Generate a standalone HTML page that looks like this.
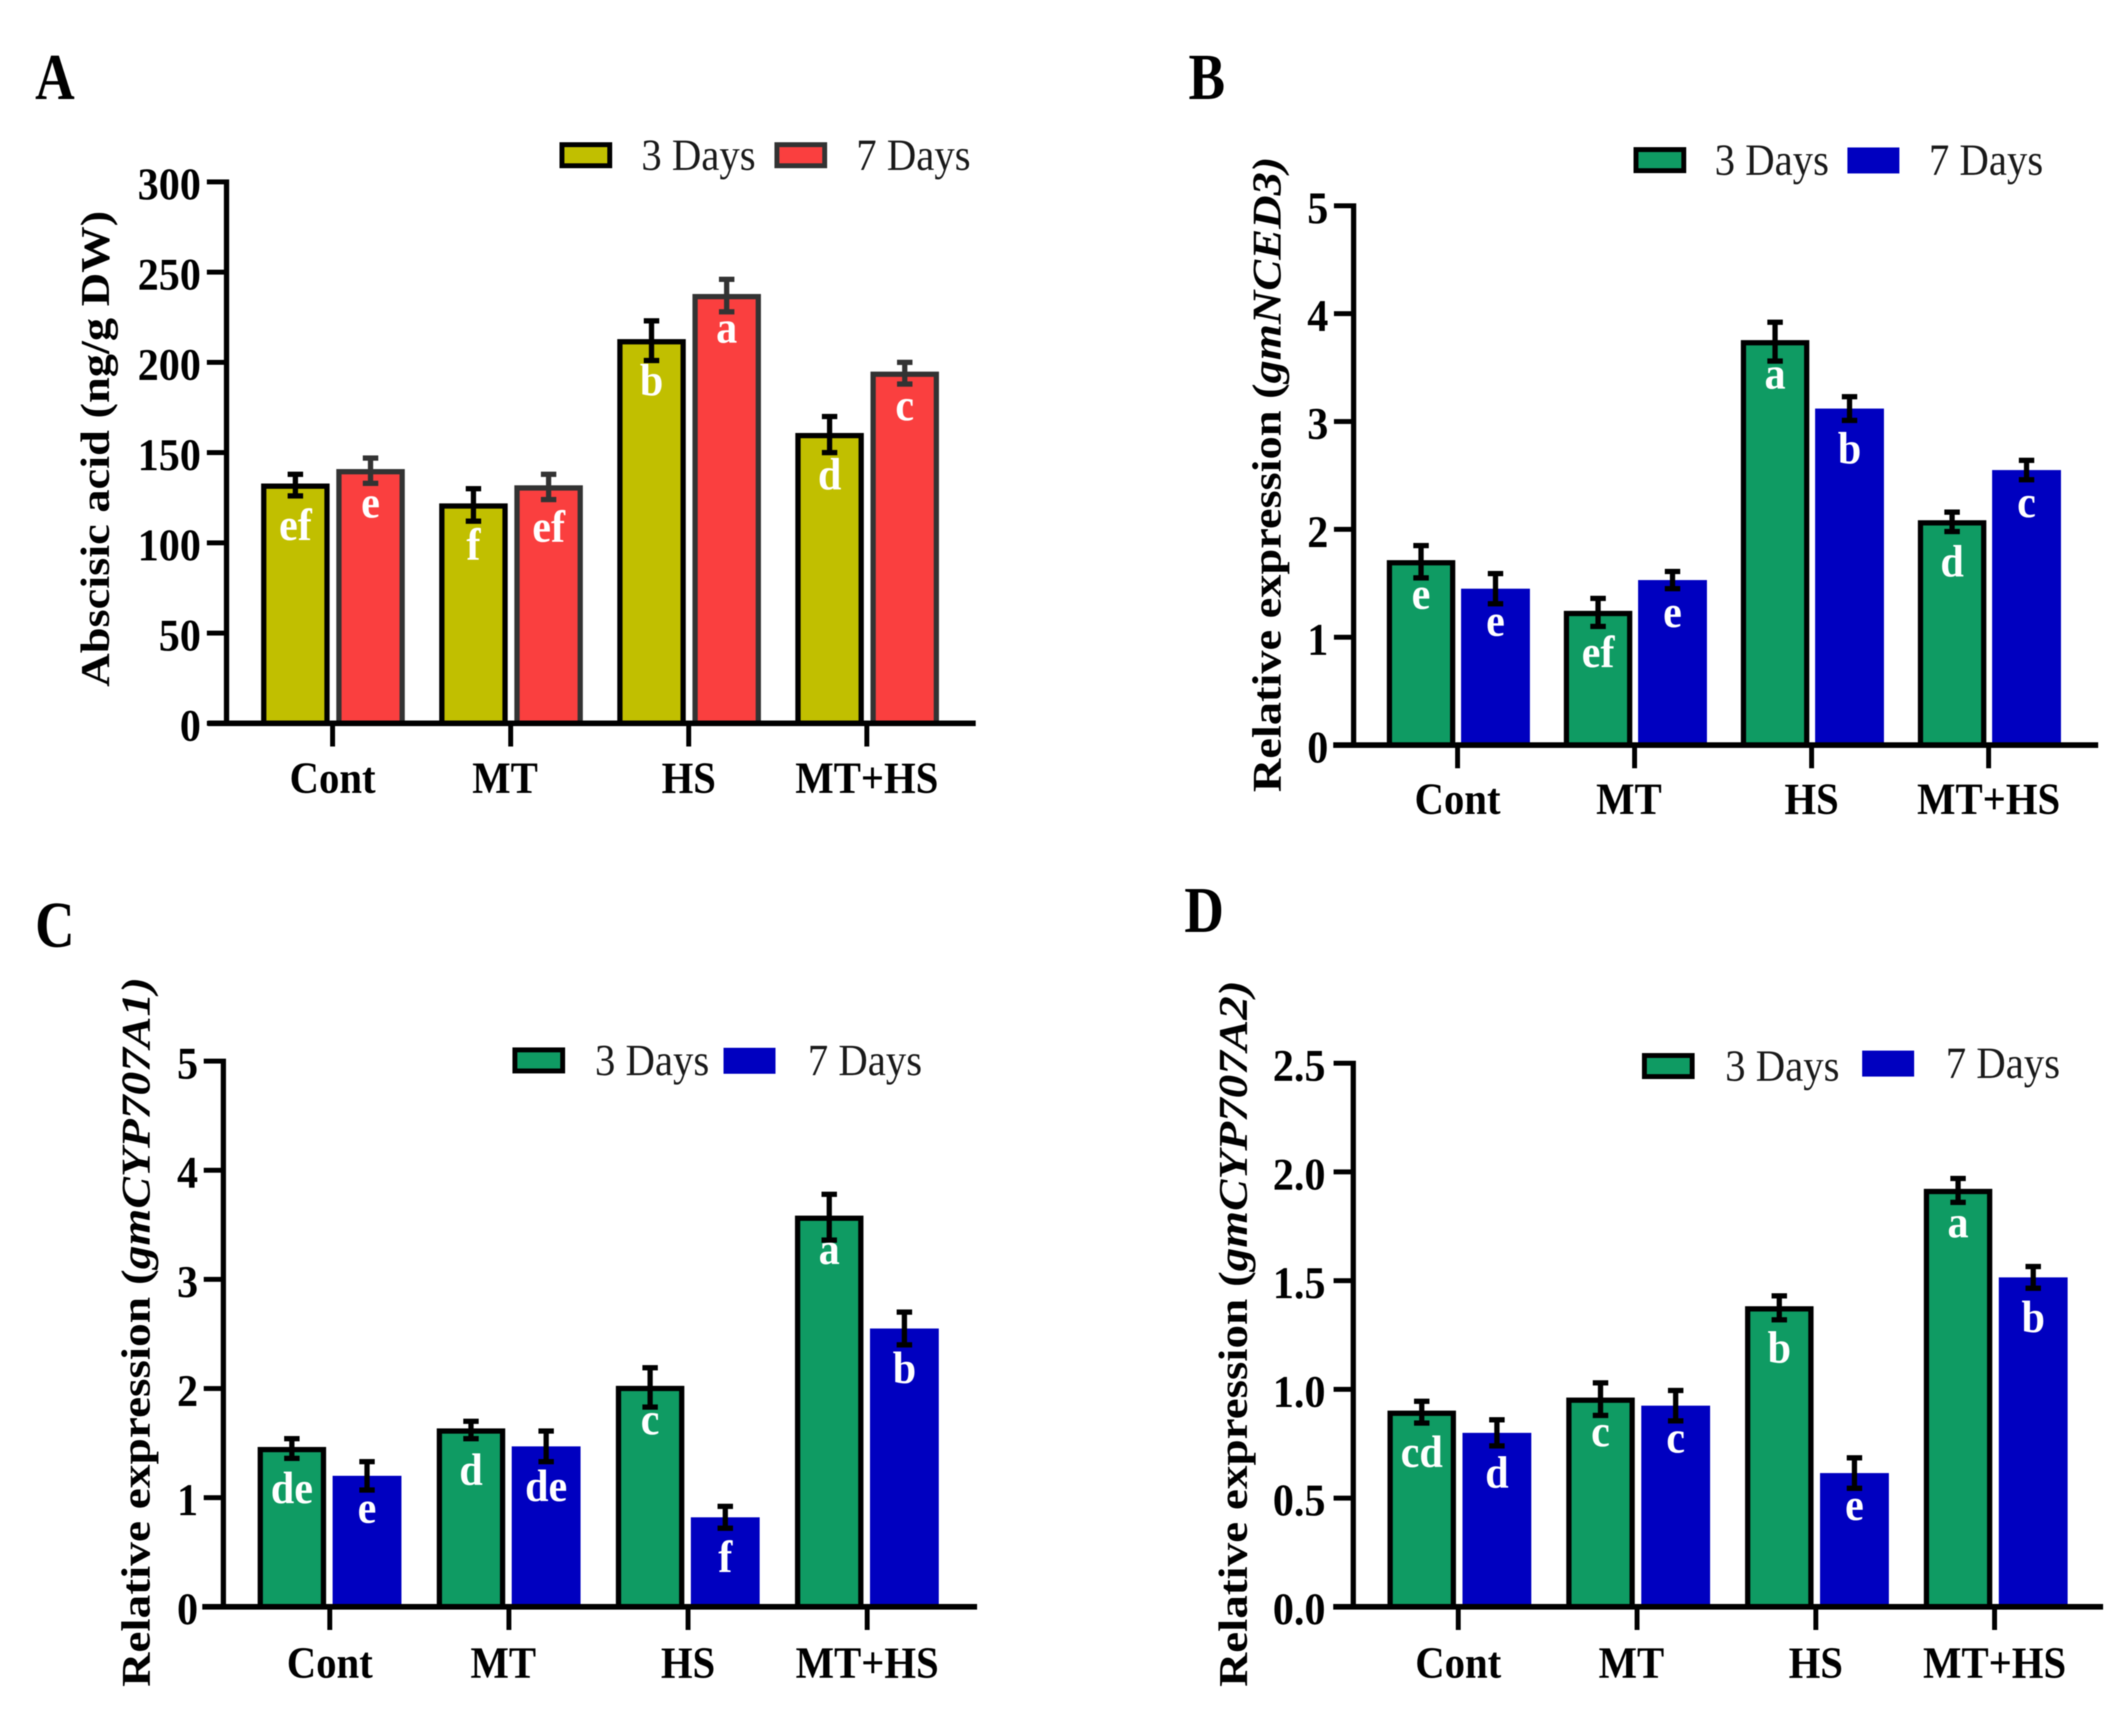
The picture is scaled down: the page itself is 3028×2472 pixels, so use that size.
<!DOCTYPE html>
<html lang="en">
<head>
<meta charset="utf-8">
<title>Abscisic acid and gene expression bar charts</title>
<style>
html,body{margin:0;padding:0;background:#fff;}
svg{display:block;filter:blur(0.8px);}
text{font-family:"Liberation Serif",serif;}
</style>
</head>
<body>
<svg id="figure" xmlns="http://www.w3.org/2000/svg" width="3028" height="2472" viewBox="0 0 3028 2472">
<rect width="3028" height="2472" fill="#ffffff"/>
</svg>
<script>
const categories = ['Cont', 'MT', 'HS', 'MT+HS'];
const seriesNames = ['3 Days', '7 Days'];

const panelAValues3 = [132, 121, 212, 160];
const panelAValues7 = [140, 131, 237, 194];
const panelAErrors3 = [6, 9, 11, 10];
const panelAErrors7 = [7, 7, 9, 6];
const panelALetters3 = ['ef', 'f', 'b', 'd'];
const panelALetters7 = ['e', 'ef', 'a', 'c'];
const panelATicks = ['0', '50', '100', '150', '200', '250', '300'];

const panelBValues3 = [1.70, 1.23, 3.74, 2.07];
const panelBValues7 = [1.45, 1.53, 3.12, 2.55];
const panelBErrors3 = [0.15, 0.13, 0.18, 0.09];
const panelBErrors7 = [0.14, 0.08, 0.11, 0.09];
const panelBLetters3 = ['e', 'ef', 'a', 'd'];
const panelBLetters7 = ['e', 'e', 'b', 'c'];
const panelBTicks = ['0', '1', '2', '3', '4', '5'];

const panelCValues3 = [1.45, 1.62, 2.01, 3.57];
const panelCValues7 = [1.20, 1.47, 0.82, 2.55];
const panelCErrors3 = [0.09, 0.08, 0.18, 0.21];
const panelCErrors7 = [0.13, 0.14, 0.10, 0.15];
const panelCLetters3 = ['de', 'd', 'c', 'a'];
const panelCLetters7 = ['e', 'de', 'f', 'b'];
const panelCTicks = ['0', '1', '2', '3', '4', '5'];

const panelDValues3 = [0.895, 0.955, 1.375, 1.915];
const panelDValues7 = [0.80, 0.925, 0.615, 1.515];
const panelDErrors3 = [0.05, 0.075, 0.055, 0.055];
const panelDErrors7 = [0.06, 0.07, 0.07, 0.05];
const panelDLetters3 = ['cd', 'c', 'b', 'a'];
const panelDLetters7 = ['d', 'c', 'e', 'b'];
const panelDTicks = ['0.0', '0.5', '1.0', '1.5', '2.0', '2.5'];

const svg = document.getElementById('figure');
const NS = 'http://www.w3.org/2000/svg';

function mk(tag, attrs, parent) {
  const el = document.createElementNS(NS, tag);
  for (const k in attrs) el.setAttribute(k, attrs[k]);
  parent.appendChild(el);
  return el;
}

function drawPanel(p) {
  const g = mk('g', {}, svg);
  
  

  const yScale = v => p.y0 - (v / p.yMax) * (p.y0 - p.yTop);
  const xScale = i => p.catX0 + i * p.catStep;

  // panel letter
  const letter = mk('text', {transform: 'translate(' + p.letterX + ',' + p.letterY + ') scale(1,1.2)', 'font-size': 78, 'font-weight': 'bold', fill: '#000'}, g);
  letter.textContent = p.id;
  
  

  // bars
  [0, 1].forEach(s => {
    const values = s === 0 ? p.values3 : p.values7;
    const errors = s === 0 ? p.errors3 : p.errors7;
    const letters = s === 0 ? p.letters3 : p.letters7;
    const fill = s === 0 ? p.fill3 : p.fill7;
    const stroke = s === 0 ? p.stroke3 : p.stroke7;
    const errColor = stroke === 'none' ? '#000000' : stroke;
    const offset = s === 0 ? p.off3 : p.off7;
    values.forEach((v, i) => {
      const cx = xScale(i) + offset;
      const y = yScale(v);
      let bar;
      if (stroke === 'none') {
        bar = mk('rect', {x: cx - 49, y: y, width: 98, height: p.y0 - y, fill: fill}, g);
      } else {
        bar = mk('rect', {x: cx - 45, y: y + 1.5, width: 90, height: p.y0 - y - 1.5, fill: fill, stroke: stroke, 'stroke-width': 7.5}, g);
      }
      
      

      const hi = yScale(v + errors[i]);
      const lo = yScale(v - errors[i]);
      const err = mk('path', {
        d: 'M' + cx + ' ' + hi + 'V' + lo + 'M' + (cx - 11) + ' ' + hi + 'H' + (cx + 11) + 'M' + (cx - 11) + ' ' + lo + 'H' + (cx + 11),
        stroke: errColor, 'stroke-width': 7.5, fill: 'none'
      }, g);
      
      

      const drop = /[bdf]/.test(letters[i]) ? 78 : 67;
      const lab = mk('text', {transform: 'translate(' + cx + ',' + (y + drop) + ') scale(1,1.08)', 'text-anchor': 'middle', 'font-size': 60, 'font-weight': 'bold', fill: '#ffffff'}, g);
      lab.textContent = letters[i];
      
      
    });
  });

  // axes
  const yAxis = mk('line', {x1: p.axisX, x2: p.axisX, y1: p.yTop - 3.5, y2: p.y0 + 4, stroke: '#000', 'stroke-width': 7.5}, g);
  
  
  const xAxis = mk('line', {x1: p.xStart, x2: p.xEnd, y1: p.y0, y2: p.y0, stroke: '#000', 'stroke-width': 8}, g);
  
  

  // y ticks
  p.ticks.forEach(t => {
    const y = yScale(parseFloat(t));
    const tick = mk('line', {x1: p.axisX - 28, x2: p.axisX, y1: y, y2: y, stroke: '#000', 'stroke-width': 7}, g);
    
    
    const lab = mk('text', {transform: 'translate(' + p.tickLabelX + ',' + (y + 25) + ') scale(1,1.08)', 'text-anchor': 'end', 'font-size': 60, 'font-weight': 'bold', fill: '#000'}, g);
    lab.textContent = t;
    
    
  });

  // x ticks
  categories.forEach((c, i) => {
    const x = xScale(i);
    const tick = mk('line', {x1: x, x2: x, y1: p.y0, y2: p.y0 + 33, stroke: '#000', 'stroke-width': 7}, g);
    
    
    const nudge = c === 'MT' ? -8 : 0;
    const lab = mk('text', {transform: 'translate(' + (x + nudge) + ',' + p.catBaseline + ') scale(1,1.1)', 'text-anchor': 'middle', 'font-size': 58, 'font-weight': 'bold', fill: '#000'}, g);
    lab.textContent = c;
    
    
  });

  // y title
  const title = mk('text', {'font-size': 58, 'font-weight': 'bold', fill: '#000', 'text-anchor': 'start'}, g);
  
  
  const t1 = mk('tspan', {}, title);
  t1.textContent = p.titleA;
  if (p.titleB) {
    const t2 = mk('tspan', {'font-style': 'italic'}, title);
    t2.textContent = p.titleB;
    const t3 = mk('tspan', {'font-style': 'italic'}, title);
    t3.textContent = ')';
  }
  const natural = title.getComputedTextLength();
  const k = (p.titleBottom - p.titleTop) / natural;
  title.setAttribute('transform', 'translate(' + p.titleX + ',' + p.titleBottom + ') rotate(-90) scale(' + k + ',1)');

  // legend
  const legend = mk('g', {}, g);
  
  
  const s0 = mk('rect', {x: p.leg1X + 3, y: p.leg1Y + 3, width: 68, height: 30, fill: p.fill3, stroke: p.stroke3, 'stroke-width': 7}, legend);
  
  
  let s1;
  if (p.stroke7 === 'none') {
    s1 = mk('rect', {x: p.leg2X, y: p.leg2Y, width: 74, height: 37, fill: p.fill7}, legend);
  } else {
    s1 = mk('rect', {x: p.leg2X + 3, y: p.leg2Y + 3, width: 68, height: 30, fill: p.fill7, stroke: p.stroke7, 'stroke-width': 7}, legend);
  }
  
  
  const l0 = mk('text', {transform: 'translate(' + p.legText1X + ',' + (p.leg1Y + 39) + ') scale(1,1.1)', 'font-size': 58, fill: '#1a1a1a'}, legend);
  l0.textContent = seriesNames[0];
  
  
  const l1 = mk('text', {transform: 'translate(' + p.legText2X + ',' + (p.leg2Y + 39) + ') scale(1,1.1)', 'font-size': 58, fill: '#1a1a1a'}, legend);
  l1.textContent = seriesNames[1];
  
  
}

const GREEN = '#0f9b63';
const BLUE = '#0000c0';

drawPanel({
  id: 'A', letterX: 50, letterY: 141,
  values3: panelAValues3, values7: panelAValues7, errors3: panelAErrors3, errors7: panelAErrors7,
  letters3: panelALetters3, letters7: panelALetters7, ticks: panelATicks, yMax: 300,
  axisX: 322.5, y0: 1030, yTop: 259, xStart: 296, xEnd: 1389, catX0: 473.5, catStep: 253.5, off3: -53, off7: 54,
  fill3: '#c1bf00', stroke3: '#000000', fill7: '#fa3f3f', stroke7: '#333333',
  tickLabelX: 286, catBaseline: 1129, titleA: 'Abscisic acid (ng/g DW)', titleB: '', titleX: 155, titleTop: 300, titleBottom: 978,
  leg1X: 797, leg1Y: 203, leg2X: 1103, leg2Y: 203, legText1X: 913, legText2X: 1219
});

drawPanel({
  id: 'B', letterX: 1692, letterY: 141,
  values3: panelBValues3, values7: panelBValues7, errors3: panelBErrors3, errors7: panelBErrors7,
  letters3: panelBLetters3, letters7: panelBLetters7, ticks: panelBTicks, yMax: 5,
  axisX: 1927, y0: 1061, yTop: 293, xStart: 1898, xEnd: 2987, catX0: 2075, catStep: 252, off3: -52, off7: 54,
  fill3: GREEN, stroke3: '#000000', fill7: BLUE, stroke7: 'none',
  tickLabelX: 1891, catBaseline: 1159, titleA: 'Relative expression (', titleB: 'gmNCED3', titleX: 1823, titleTop: 223, titleBottom: 1128,
  leg1X: 2326, leg1Y: 210, leg2X: 2630, leg2Y: 210, legText1X: 2441, legText2X: 2746
});

drawPanel({
  id: 'C', letterX: 50, letterY: 1348,
  values3: panelCValues3, values7: panelCValues7, errors3: panelCErrors3, errors7: panelCErrors7,
  letters3: panelCLetters3, letters7: panelCLetters7, ticks: panelCTicks, yMax: 5,
  axisX: 318, y0: 2288, yTop: 1511, xStart: 288, xEnd: 1391, catX0: 469.5, catStep: 255, off3: -54, off7: 53,
  fill3: GREEN, stroke3: '#000000', fill7: BLUE, stroke7: 'none',
  tickLabelX: 282, catBaseline: 2389, titleA: 'Relative expression (', titleB: 'gmCYP707A1', titleX: 213, titleTop: 1391, titleBottom: 2402,
  leg1X: 730, leg1Y: 1492, leg2X: 1030, leg2Y: 1492, legText1X: 847, legText2X: 1150
});

drawPanel({
  id: 'D', letterX: 1686, letterY: 1327,
  values3: panelDValues3, values7: panelDValues7, errors3: panelDErrors3, errors7: panelDErrors7,
  letters3: panelDLetters3, letters7: panelDLetters7, ticks: panelDTicks, yMax: 2.5,
  axisX: 1926.5, y0: 2288, yTop: 1514, xStart: 1898, xEnd: 2994, catX0: 2076, catStep: 254.5, off3: -52, off7: 55,
  fill3: GREEN, stroke3: '#000000', fill7: BLUE, stroke7: 'none',
  tickLabelX: 1887, catBaseline: 2389, titleA: 'Relative expression (', titleB: 'gmCYP707A2', titleX: 1775, titleTop: 1396, titleBottom: 2402,
  leg1X: 2338, leg1Y: 1500, leg2X: 2651, leg2Y: 1496, legText1X: 2456, legText2X: 2770
});
</script>
</body>
</html>
